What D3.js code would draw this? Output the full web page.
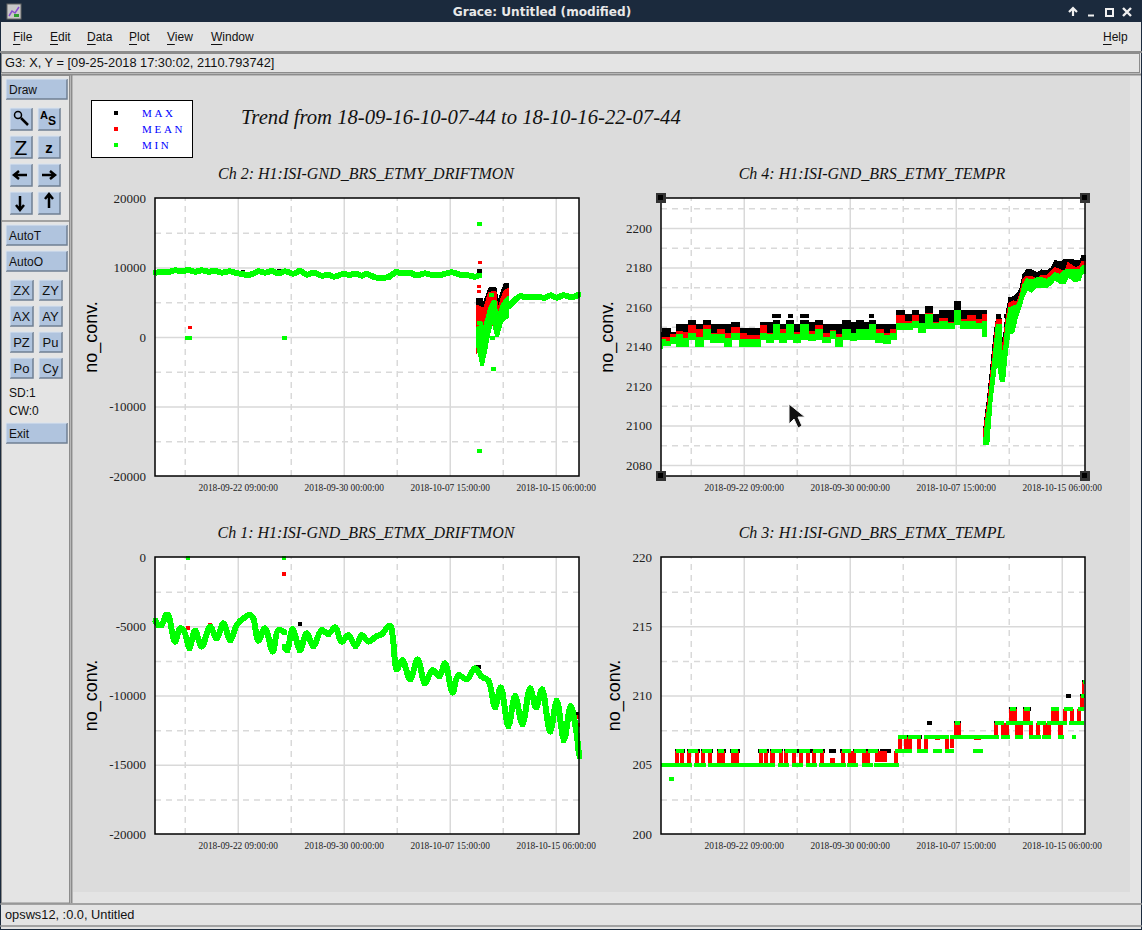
<!DOCTYPE html>
<html>
<head>
<meta charset="utf-8">
<title>Grace: Untitled (modified)</title>
<script src="https://cdn.jsdelivr.net/npm/d3@7"></script>
<style>
  html, body { margin: 0; padding: 0; background: #e4e4e4; overflow: hidden; }
  svg { display: block; }
  .ui { font-family: "Liberation Sans", Arial, sans-serif; font-size: 12px; fill: #111; }
  .serif { font-family: "Liberation Serif", "Times New Roman", serif; }
</style>
</head>
<body>
<script>
// time axis, shared by the four graphs
const startTime = Date.UTC(2018, 8, 16, 10, 7, 44);
const endTime = Date.UTC(2018, 9, 16, 22, 7, 44);
const majorTimes = [Date.UTC(2018, 8, 22, 9), Date.UTC(2018, 8, 30, 0), Date.UTC(2018, 9, 7, 15), Date.UTC(2018, 9, 15, 6)];
const minorTimes = [Date.UTC(2018, 8, 18, 13, 30), Date.UTC(2018, 8, 26, 4, 30), Date.UTC(2018, 9, 3, 19, 30), Date.UTC(2018, 9, 11, 10, 30)];

// legend
const legendNames = ["MAX", "MEAN", "MIN"];
const legendColors = ["#000000", "#ff0000", "#00ff00"];

// y ticks
const ch2Major = [-20000, -10000, 0, 10000, 20000];
const ch2Minor = [-15000, -5000, 5000, 15000];
const ch4Major = [2080, 2100, 2120, 2140, 2160, 2180, 2200];
const ch4Minor = [2090, 2110, 2130, 2150, 2170, 2190, 2210];
const ch1Major = [-20000, -15000, -10000, -5000, 0];
const ch1Minor = [-17500, -12500, -7500, -2500];
const ch3Major = [200, 205, 210, 215, 220];
const ch3Minor = [202.5, 207.5, 212.5, 217.5];

// Ch 2: days since start, min trace (null = gap)
const ch2MinDays = [0, 0.36, 0.96, 1.44, 1.92, 2.4, 2.88, 3.36, 3.84, 4.32, 4.8, 5.4, 5.88, 6.24, 6.64, 7.07, 7.43, 7.91, 8.39, 8.87, 9.35, 9.95, 10.43, 10.91, 11.39, 11.99, 12.47, 12.88, 13.43, 14.03, 14.51, 14.87, 15.23, 15.83, 16.31, 16.78, 17.39, 17.63, 18.35, 18.82, 19.42, 20.02, 20.62, 21.34, 21.94, 22.54, 23.02, 23.33, 23.4, 25.45, 25.78, 26.26, 26.62, 27.22, 27.7, 28.06, 28.47, 28.9, 29.37, 29.98, 30.45];
const ch2MinValues = [9210, 9353, 9353, 9593, 9449, 9640, 9400, 9593, 9400, 9497, 9257, 9449, 9160, 9113, 8920, 9113, 9449, 9257, 9497, 9160, 9449, 9113, 9497, 8970, 9257, 8825, 8920, 8680, 9017, 8970, 9065, 8825, 9065, 8585, 8490, 8633, 9353, 9160, 9210, 8873, 9160, 8873, 8970, 9305, 8970, 8873, 8680, 8873, null, 4400, 5084, 5852, 5756, 5708, 5708, 5660, 5996, 5660, 5996, 5708, 6044];
// Ch 2: the oscillating stretch in October, upper and lower edges
const ch2DipDays = [23.21, 23.5, 23.57, 23.74, 24.05, 24.29, 24.46, 24.58, 24.65, 24.94, 25.18, 25.37];
const ch2DipMaxHigh = [5420, 5420, 4269, 5084, 6907, 7003, 7003, 5564, 4749, 6284, 7579, 7579];
const ch2DipMeanHigh = [4365, 4125, 3022, 4269, 6284, 6380, 6380, 4365, 3310, 5420, 6619, 6763];
const ch2DipMeanLow = [-1967, -1391, -1391, 48, 1247, 1967, 1967, 1007, 1007, 2446, 2686, 3166];
const ch2DipMinHigh = [1247, 1727, 528, 1727, 3981, 5084, 5084, 3310, 2686, 4461, 5228, 5564];
const ch2DipMinLow = [-1391, -3933, -3933, -2350, 767, 2686, 1007, 192, 192, 2206, 2686, 2926];
// Ch 2: single points
const ch2MaxDotDays = [6.35, 8.94, 23.3, 23.36];
const ch2MaxDotValues = [9305, 9497, 9545, 9545];
const ch2MeanDotDays = [2.5, 23.38, 23.31, 23.31];
const ch2MeanDotValues = [1395, 10650, 7243, 6524];
const ch2MinDotDays = [2.37, 2.5, 9.28, 23.33, 24.32, 23.31, 24.27, 24.23, 23.35];
const ch2MinDotValues = [-100, -100, -100, 16260, -4605, -16405, -96, 5996, 2062];

// Ch 4: steady stretch, then the drop and recovery
const ch4DaysA = [0, 0.17, 0.53, 0.89, 1.37, 1.73, 2.21, 2.81, 3.29, 3.76, 4.36, 4.84, 5.32, 5.92, 6.4, 7, 7.36, 7.84, 8.32, 8.8, 9.28, 9.76, 10.36, 10.84, 11.32, 11.92, 12.4, 12.76, 13.36, 13.84, 14.32, 14.8, 15.16, 15.76, 16.24, 16.71, 17.19, 17.91, 18.27, 18.75, 19.35, 19.71, 20.31, 20.91, 21.34, 21.75, 22.35, 22.83, 23.38];
const ch4MaxA = [2147, 2149, 2149, 2147, 2151, 2151, 2153, 2151, 2153, 2151, 2151, 2151, 2152, 2149, 2149, 2149, 2152, 2152, 2153, 2151, 2153, 2151, 2153, 2152, 2153, 2151, 2151, 2151, 2153, 2152, 2153, 2152, 2153, 2151, 2151, 2151, 2158, 2156, 2158, 2156, 2160, 2156, 2158, 2158, 2163, 2158, 2158, 2158, 2158];
const ch4MeanA = [2144.7, 2144.7, 2144.7, 2146, 2147.6, 2147, 2150.5, 2148.4, 2150.5, 2146.8, 2148.8, 2146.8, 2149.8, 2146.8, 2145.4, 2145.4, 2150.5, 2146.8, 2151, 2148.8, 2151, 2147, 2151, 2147.6, 2150.5, 2146.8, 2148, 2146, 2148.8, 2146.8, 2148.8, 2148.8, 2151, 2148.8, 2146.8, 2148.4, 2155.5, 2152.7, 2155.5, 2151.8, 2156.5, 2152.2, 2154.3, 2152.2, 2158.2, 2153.8, 2155.5, 2153.5, 2156];
const ch4MinHighA = [2143.7, 2143.7, 2142.5, 2144.7, 2146, 2144.2, 2146.8, 2144.7, 2148.8, 2146, 2146, 2144.2, 2146.8, 2143.7, 2143.7, 2143.7, 2146.8, 2146, 2151, 2146.8, 2151, 2146, 2151, 2146, 2148.8, 2144.7, 2147.6, 2144.7, 2148.8, 2146.8, 2148.8, 2148.8, 2151, 2146.8, 2145.4, 2146.8, 2151.8, 2151.8, 2152.7, 2151.8, 2156, 2151.8, 2152.7, 2151.8, 2158.2, 2152.7, 2152.7, 2151.8, 2152.7];
const ch4MinLowA = [2139, 2140.3, 2140.3, 2141.7, 2140, 2140, 2143.7, 2140, 2143.7, 2142, 2142, 2140, 2143.7, 2140, 2140, 2140, 2143.7, 2142, 2143.7, 2142, 2143.7, 2142, 2143.7, 2143, 2143.7, 2142, 2144.2, 2140, 2143.7, 2143, 2143.7, 2143.7, 2143.7, 2142, 2141.7, 2143.4, 2148.8, 2148.8, 2149.8, 2147, 2149.3, 2149.3, 2149.3, 2149.3, 2151, 2149.3, 2149.3, 2149.3, 2145];
const ch4DaysB = [23.24, 23.38, 23.55, 23.79, 24.03, 24.15, 24.44, 24.48, 24.68, 24.82, 25.06, 25.35, 25.59, 25.83, 26.07, 26.31, 26.67, 27.03, 27.39, 27.75, 28.11, 28.35, 28.71, 29.06, 29.3, 29.78, 30.14, 30.29, 30.5];
const ch4MaxB = [2097.8, 2106.2, 2115.5, 2132.4, 2148.4, 2153.8, 2153.8, 2143.4, 2145.1, 2155.2, 2164.5, 2165, 2166.2, 2168.7, 2176.3, 2178.5, 2178.5, 2177.1, 2178.5, 2178, 2179.7, 2183.4, 2182.5, 2183.9, 2183.9, 2183.5, 2183, 2185.6, 2185.6];
const ch4MeanB = [2097, 2104.6, 2113, 2129, 2145, 2153.2, 2153.2, 2140.8, 2142.5, 2152.7, 2161.9, 2162.8, 2161.9, 2166.2, 2173.8, 2175.4, 2175.1, 2174.1, 2175.8, 2175.4, 2178, 2179.7, 2178.8, 2177.1, 2182.2, 2179.7, 2180.5, 2183, 2183];
const ch4MinHighB = [2091.9, 2102, 2109.6, 2125.7, 2141.7, 2151, 2151, 2136.6, 2138.3, 2150.1, 2159.4, 2160.3, 2160.3, 2164.5, 2171.2, 2174.1, 2173.4, 2174.6, 2174.6, 2173.8, 2175.4, 2177.1, 2176.3, 2178.5, 2178.8, 2178.5, 2178.5, 2180.5, 2180.8];
const ch4MinLowB = [2090.5, 2090.5, 2090.5, 2113, 2126.5, 2134.9, 2122.3, 2122.3, 2122.3, 2133.2, 2146.8, 2147.1, 2154.3, 2159.4, 2165, 2168.7, 2167.8, 2170.4, 2169.9, 2169.9, 2172.1, 2174.1, 2172.1, 2172.1, 2175.4, 2172.9, 2173.8, 2177.1, 2177.1];
const ch4MaxDotDays = [8.2, 8.45, 9.35, 10.2, 10.5, 15.16, 24.27, 25.23, 24.87];
const ch4MaxDotValues = [2155.2, 2155.2, 2155.2, 2155.2, 2155.2, 2155.2, 2155.2, 2164, 2155.2];

// Ch 1: min trace
const ch1MinDays = [0, 0.24, 0.48, 0.79, 0.96, 1.2, 1.44, 1.8, 2.04, 2.33, 2.47, 2.88, 3.36, 3.96, 4.44, 4.92, 5.4, 5.88, 6.35, 6.83, 7.07, 7.43, 7.91, 8.47, 8.87, 9.35, 9.36, 9.28, 9.5, 9.9, 10.43, 10.91, 11.39, 11.99, 12.47, 12.95, 13.43, 13.91, 14.44, 14.87, 15.35, 15.95, 16.31, 16.79, 16.95, 17.15, 17.39, 17.79, 18.35, 18.9, 19.42, 19.95, 20.46, 20.86, 21.41, 21.82, 22.42, 23.02, 23.5, 23.98, 24.46, 24.87, 25.42, 25.9, 26.43, 26.98, 27.41, 27.84, 28.42, 28.9, 29.42, 29.9, 30.29, 30.5];
const ch1MinValues = [-4549, -4910, -4910, -4188, -4188, -5271, -6114, -5151, -5271, -6114, -6595, -5319, -6475, -5031, -5873, -4790, -5993, -4910, -4429, -4188, -4429, -6042, -5151, -6836, -5271, -5440, null, -6475, -6715, -5199, -6715, -5512, -6427, -5271, -5560, -5079, -6114, -5632, -6427, -5632, -6114, -5705, -5584, -4982, -4982, -6234, -8112, -7438, -8834, -7389, -9123, -8160, -8593, -7678, -9796, -8521, -8834, -8039, -8641, -8930, -10856, -9411, -12203, -10037, -12059, -9484, -10856, -9556, -12613, -10374, -13214, -10759, -12492, -14370];
const ch1MaxDotDays = [10.43, 23.1, 23.3, 30.33];
const ch1MaxDotValues = [-4838, -7919, -7919, -11337];
const ch1MeanDotDays = [2.37, 3.96, 9.28, 30.33, 30.4];
const ch1MeanDotValues = [-5127, -4934, -1228, -11577, -12131];
const ch1MinDotDays = [2.37, 9.28];
const ch1MinDotValues = [-72, -72];

// Ch 3: values sit on whole counts, runs of equal value as start day, end day, level
const ch3MinStart = [0, 2.37, 3.41, 8.42, 9.42, 10.43, 11.37, 13.38, 14.46, 15.32, 1.08, 1.94, 2.95, 4.1, 5.04, 7.05, 7.91, 8.92, 9.93, 10.94, 13.02, 13.88, 14.89, 16.83, 18.42, 19.57, 20.43, 22.45, 17.05, 17.77, 18.92, 20.79, 24.46, 25.46, 26.48, 27.41, 28.56, 29.57, 21.15, 24.03, 24.82, 27.05, 27.77, 29.35, 25.11, 26.12, 28.06, 29, 30, 30.22, 30.34, 0.58];
const ch3MinEnd = [2.21, 3.24, 8.2, 9.21, 10.22, 11.22, 13.31, 14.17, 15.25, 17.12, 1.68, 2.66, 3.67, 4.53, 5.54, 7.63, 8.71, 9.76, 10.72, 11.65, 13.67, 14.75, 15.61, 18.06, 19.21, 20.22, 21.08, 23.16, 17.7, 18.7, 20.72, 24.31, 25.11, 26.04, 27.34, 28.06, 29, 29.86, 21.51, 24.68, 26.76, 27.7, 29.21, 30.43, 25.54, 26.55, 28.63, 29.64, 30.43, 30.5, 30.5, 0.94];
const ch3MinLevel = [205, 205, 205, 205, 205, 205, 205, 205, 205, 205, 206, 206, 206, 206, 206, 206, 206, 206, 206, 206, 206, 206, 206, 206, 206, 206, 206, 206, 207, 207, 207, 207, 207, 207, 207, 207, 207, 207, 208, 208, 208, 208, 208, 208, 209, 209, 209, 209, 209, 210, 211, 204];
const ch3MaxStart = [1.01, 1.87, 2.88, 4.03, 4.96, 6.98, 7.84, 8.85, 9.88, 12.06, 12.88, 13.8, 14.85, 15.76, 17.05, 18.9, 19.14, 21.1, 23.96, 25, 26.05, 29.13, 30.15, 30.3];
const ch3MaxEnd = [1.73, 2.81, 3.74, 4.68, 5.68, 7.77, 8.8, 9.88, 11.8, 12.59, 13.7, 14.8, 15.7, 16.55, 18.75, 19.3, 19.5, 21.55, 24.7, 25.6, 26.6, 29.49, 30.45, 30.5];
const ch3MaxLevel = [206, 206, 206, 206, 206, 206, 206, 206, 206, 206, 206, 206, 206, 206, 207, 207, 208, 208, 208, 209, 209, 210, 210, 211];
const ch3MeanStart = [1.01, 1.37, 1.87, 2.45, 2.88, 3.38, 4.03, 5.04, 7.05, 7.41, 7.84, 8.49, 8.85, 9.42, 9.93, 10.43, 10.86, 11.44, 12.16, 12.95, 13.45, 14.46, 15.4, 16.76, 17.05, 17.48, 18.42, 18.92, 19.71, 20.43, 20.79, 21.08, 22.53, 23.96, 24.46, 25.04, 25.46, 26.04, 26.48, 26.98, 27.48, 28.06, 28.56, 28.92, 29.42, 29.93, 30.14, 30.29];
const ch3MeanEnd = [1.29, 1.65, 2.16, 2.73, 3.17, 3.67, 4.6, 5.61, 7.34, 7.7, 8.2, 8.78, 9.14, 9.71, 10.22, 10.72, 11.15, 11.73, 12.52, 13.24, 14.03, 15.04, 16.26, 17.05, 17.34, 18.06, 18.7, 19.21, 20.07, 20.72, 21.08, 21.58, 23.02, 24.24, 25.04, 25.61, 26.04, 26.55, 26.76, 27.27, 28.06, 28.63, 28.92, 29.21, 29.71, 30.22, 30.43, 30.43];
const ch3MeanLow = [205, 205, 205, 205, 205, 205, 205, 205, 205, 205, 205, 205, 205, 205, 205, 205, 205, 205, 205, 205, 205, 205, 205.2, 205, 206, 206, 206, 206, 206.8, 206, 206.2, 207, 206.8, 207, 207, 208, 207, 208, 207, 207, 207, 208, 207, 208, 208, 208, 209, 210];
const ch3MeanHigh = [206, 206, 206, 206, 206, 206, 206, 206, 206, 206, 206, 206, 206, 206, 206, 206, 206, 206, 205.5, 206, 206, 206, 206, 206, 207, 207, 207, 207, 207, 207, 207, 208, 207, 208, 208, 209, 208, 209, 208, 208, 208, 209, 208, 209, 209, 209, 210, 211];

const W = 1142, H = 930;
const svg = d3.select("body").append("svg").attr("width", W).attr("height", H);
const dayTime = d => new Date(startTime + d * 864e5);
const tickStamp = d3.utcFormat("%Y-%m-%d %H:%M:%S");

// ---------- window chrome ----------
const navy = "#1b2a3d", panelBg = "#e4e4e4", canvasBg = "#dcdcdc", btn = "#b0c4de";

svg.append("rect").attr("width", W).attr("height", H).attr("fill", panelBg);
svg.append("rect").attr("width", W).attr("height", 22).attr("fill", navy);
svg.append("rect").attr("x", 0.5).attr("y", 0.5).attr("width", W - 1).attr("height", H - 1)
    .attr("fill", "none").attr("stroke", navy);
svg.append("text").attr("x", 542).attr("y", 16).attr("text-anchor", "middle")
    .style("font-family", "'DejaVu Sans', sans-serif").style("font-size", "12.1px").style("font-weight", "bold")
    .attr("fill", "#e8e8e8").text("Grace: Untitled (modified)");

// app icon
svg.append("rect").attr("x", 7).attr("y", 4).attr("width", 14).attr("height", 15).attr("fill", "#c8c8c8").attr("stroke", "#666");
svg.append("path").attr("d", "M9 16 L12 11 L15 13 L19 7").attr("fill", "none").attr("stroke", "#8a4fd0").attr("stroke-width", 1.5);
svg.append("rect").attr("x", 14).attr("y", 14).attr("width", 5).attr("height", 3).attr("fill", "#2f9e2f");

// title bar buttons
const wb = svg.append("g").attr("fill", "none").attr("stroke", "#f0f0f0").attr("stroke-width", 2);
wb.append("path").attr("d", "M1069 12 L1073 8 L1077 12 M1073 9 V16").attr("stroke-width", 2.2);
wb.append("path").attr("d", "M1088 15.5 H1094");
wb.append("rect").attr("x", 1106).attr("y", 9).attr("width", 7).attr("height", 7);
wb.append("path").attr("d", "M1123 8 L1131 16 M1131 8 L1123 16").attr("stroke-width", 2.4);

// menu bar
const menuNames = ["File", "Edit", "Data", "Plot", "View", "Window", "Help"];
const menuX = [13, 50, 87, 129, 167, 211, 1103];
menuNames.forEach((name, i) => {
    const t = svg.append("text").attr("class", "ui").attr("x", menuX[i]).attr("y", 41).text(name);
    const first = t.node().getSubStringLength(0, 1);
    svg.append("line").attr("x1", menuX[i]).attr("x2", menuX[i] + first).attr("y1", 44.5).attr("y2", 44.5).attr("stroke", "#111");
});

// horizontal bars
const greyLine = (x1, y1, x2, y2, w) => svg.append("line").attr("x1", x1).attr("y1", y1).attr("x2", x2).attr("y2", y2)
    .attr("stroke", "#8c8c8c").attr("stroke-width", w || 1.5);
greyLine(0, 52, W, 52, 2);
svg.append("rect").attr("x", 1.5).attr("y", 53.5).attr("width", 1138).attr("height", 19).attr("fill", "none").attr("stroke", "#8c8c8c");
svg.append("text").attr("class", "ui").attr("x", 5).attr("y", 67).style("font-size", "12.8px").text("G3: X, Y = [09-25-2018 17:30:02, 2110.793742]");
greyLine(1, 74.5, W - 1, 74.5, 2);

// plot canvas and left tool column
svg.append("rect").attr("x", 73).attr("y", 76).attr("width", 1057).attr("height", 816).attr("fill", canvasBg);
svg.append("rect").attr("x", 1.5).attr("y", 75.5).attr("width", 68).attr("height", 827.5).attr("fill", panelBg).attr("stroke", "#8c8c8c");
greyLine(71.5, 75, 71.5, 903, 2);
greyLine(0, 904, W, 904, 1.5);
svg.append("text").attr("class", "ui").attr("x", 5).attr("y", 919).style("font-size", "12.8px").text("opsws12, :0.0, Untitled");
greyLine(0, 926, W, 926, 1.5);
greyLine(2, 221, 69, 221, 1.5);

function button(x, y, w, h, label, size) {
    svg.append("rect").attr("x", x).attr("y", y).attr("width", w).attr("height", h).attr("fill", btn);
    svg.append("path").attr("d", `M${x} ${y + h} H${x + w} V${y}`).attr("fill", "none").attr("stroke", "#6f7f92").attr("stroke-width", 1.5);
    svg.append("path").attr("d", `M${x} ${y + h} V${y} H${x + w}`).attr("fill", "none").attr("stroke", "#dbe4ef").attr("stroke-width", 1);
    if (label) {
        svg.append("text").attr("class", "ui").attr("x", size ? x + w / 2 : x + 3).attr("y", y + h / 2 + 4.5)
            .attr("text-anchor", size ? "middle" : "start").style("font-size", (size || 12) + "px").text(label);
    }
}
button(6, 79, 61, 20, "Draw");
button(6, 225, 61, 20, "AutoT");
button(6, 251, 61, 20, "AutoO");
button(6, 423, 61, 20, "Exit");
const smallLabels = [["ZX", "ZY"], ["AX", "AY"], ["PZ", "Pu"], ["Po", "Cy"]];
const smallY = [280, 306, 332, 358];
smallLabels.forEach((row, i) => {
    button(10, smallY[i], 23, 20, row[0], 13);
    button(39, smallY[i], 23, 20, row[1], 13);
});
const iconY = [108, 136, 164, 192];
iconY.forEach(y => { button(10, y, 22, 22); button(38, y, 22, 22); });
// tool icons
const ink = svg.append("g").attr("fill", "none").attr("stroke", "#000");
ink.append("circle").attr("cx", 18).attr("cy", 115).attr("r", 3.5).attr("stroke-width", 1.5);
ink.append("path").attr("d", "M21 118 L28 125").attr("stroke-width", 2.5);
svg.append("text").attr("x", 40).attr("y", 119).style("font-family", "'Liberation Sans'").style("font-size", "11px").style("font-weight", "bold").text("A");
svg.append("text").attr("x", 48).attr("y", 125).style("font-family", "'Liberation Sans'").style("font-size", "12px").style("font-weight", "bold").text("S");
svg.append("text").attr("x", 21).attr("y", 155).attr("text-anchor", "middle").style("font-family", "'Liberation Sans'").style("font-size", "21px").text("Z");
svg.append("text").attr("x", 49).attr("y", 153).attr("text-anchor", "middle").style("font-family", "'Liberation Sans'").style("font-size", "15px").style("font-weight", "bold").text("z");
ink.append("path").attr("d", "M27 175 H16 M19 171 L14 175 L19 179").attr("stroke-width", 2.5);
ink.append("path").attr("d", "M42 175 H53 M50 171 L55 175 L50 179").attr("stroke-width", 2.5);
ink.append("path").attr("d", "M20 196 V208 M16 205 L20 210 L24 205").attr("stroke-width", 2.5);
ink.append("path").attr("d", "M49 208 V196 M45 199 L49 194 L53 199").attr("stroke-width", 2.5);
svg.append("text").attr("class", "ui").attr("x", 9).attr("y", 397).text("SD:1");
svg.append("text").attr("class", "ui").attr("x", 9).attr("y", 415).text("CW:0");

// ---------- legend and heading ----------
svg.append("rect").attr("x", 91.5).attr("y", 100.5).attr("width", 101).attr("height", 57).attr("fill", "#fff").attr("stroke", "#000");
legendNames.forEach((name, i) => {
    const y = 113 + i * 16;
    svg.append("rect").attr("x", 114).attr("y", y - 2).attr("width", 4).attr("height", 4).attr("fill", legendColors[i]);
    svg.append("text").attr("class", "serif").attr("x", 142).attr("y", y + 4).attr("fill", "#0000ff")
        .style("font-size", "11px").style("letter-spacing", "2.7px").text(name);
});
svg.append("text").attr("class", "serif").attr("x", 241).attr("y", 124).attr("fill", "#111")
    .style("font-size", "20.7px").style("font-style", "italic").text("Trend from 18-09-16-10-07-44 to 18-10-16-22-07-44");

// ---------- graphs ----------
function makeGraph(o) {
    const g = svg.append("g");
    const x = d3.scaleUtc().domain([startTime, endTime]).range([o.left, o.left + 424]);
    const y = d3.scaleLinear().domain(o.domain).range([o.top + o.h, o.top]);
    const xAt = d => x(dayTime(d));

    const gridX = (ticks, dash) => g.append("g").attr("transform", `translate(0,${o.top + o.h})`)
        .call(d3.axisBottom(x).tickValues(ticks.map(t => new Date(t))).tickSize(-o.h).tickFormat(""))
        .call(s => s.select(".domain").remove())
        .call(s => s.selectAll("line").attr("stroke", "#d9d9d9").attr("stroke-width", 1.5).attr("stroke-dasharray", dash));
    const gridY = (ticks, dash) => g.append("g").attr("transform", `translate(${o.left},0)`)
        .call(d3.axisLeft(y).tickValues(ticks).tickSize(-424).tickFormat(""))
        .call(s => s.select(".domain").remove())
        .call(s => s.selectAll("line").attr("stroke", "#d9d9d9").attr("stroke-width", 1.5).attr("stroke-dasharray", dash));

    g.append("rect").attr("x", o.left).attr("y", o.top).attr("width", 424).attr("height", o.h).attr("fill", "#fff");
    gridX(minorTimes, "6,5");
    gridX(majorTimes, null);
    gridY(o.minor, "6,5");
    gridY(o.major.filter(v => v > o.domain[0] && v < o.domain[1]), null);

    // tick labels
    g.append("g").attr("transform", `translate(0,${o.top + o.h})`)
        .call(d3.axisBottom(x).tickValues(majorTimes.map(t => new Date(t))).tickSize(0).tickPadding(8).tickFormat(tickStamp))
        .call(s => s.select(".domain").remove())
        .call(s => s.selectAll("text").attr("class", "serif").attr("fill", "#222").style("font-size", "9.4px"));
    g.append("g").attr("transform", `translate(${o.left},0)`)
        .call(d3.axisLeft(y).tickValues(o.major).tickSize(0).tickPadding(9).tickFormat(d => String(d)))
        .call(s => s.select(".domain").remove())
        .call(s => s.selectAll("text").attr("class", "serif").attr("fill", "#222").style("font-size", "13px"));

    g.append("text").attr("class", "serif").attr("x", o.left + 211).attr("y", o.top - 19).attr("text-anchor", "middle")
        .attr("fill", "#111").style("font-size", "16px").style("font-style", "italic").text(o.title);
    g.append("text").attr("transform", `translate(${o.labelX},${o.top + o.h / 2}) rotate(-90)`).attr("text-anchor", "middle")
        .style("font-family", "'Liberation Sans', Arial, sans-serif").style("font-size", "18px").attr("fill", "#000").text("no_conv.");

    const marks = g.append("g").attr("shape-rendering", "crispEdges");

    const dots = (days, values, color, w, h) => marks.selectAll(null).data(days).enter().append("rect")
        .attr("x", d => xAt(d) - w / 2)
        .attr("y", (d, i) => y(values[i]) - h / 2)
        .attr("width", w).attr("height", h).attr("fill", color);

    const band = (days, high, low, color, sw, curve) => marks.append("path")
        .datum(days.map((d, i) => [d, high[i], low[i]]))
        .attr("d", d3.area().curve(curve || d3.curveLinear).x(d => xAt(d[0])).y0(d => y(d[2])).y1(d => y(d[1])))
        .attr("fill", color).attr("stroke", color).attr("stroke-width", sw || 1);

    const trace = (days, values, color) => {
        marks.append("path").datum(days.map((d, i) => [d, values[i]]))
            .attr("d", d3.line().curve(d3.curveCatmullRom).defined(d => d[1] != null).x(d => xAt(d[0])).y(d => y(d[1])))
            .attr("fill", "none").attr("stroke", color).attr("stroke-width", 6).attr("stroke-linejoin", "round");
        const keep = days.filter((d, i) => values[i] != null);
        dots(keep, values.filter(v => v != null), color, 5, 5);
    };

    const runs = (start, end, level, color, h) => marks.selectAll(null).data(start).enter().append("rect")
        .attr("x", d => xAt(d))
        .attr("y", (d, i) => y(level[i]) - h / 2)
        .attr("width", (d, i) => xAt(end[i]) - xAt(d))
        .attr("height", h).attr("fill", color);

    const bars = (start, end, low, high, color) => marks.selectAll(null).data(start).enter().append("rect")
        .attr("x", d => xAt(d))
        .attr("y", (d, i) => y(high[i]))
        .attr("width", (d, i) => xAt(end[i]) - xAt(d))
        .attr("height", (d, i) => y(low[i]) - y(high[i])).attr("fill", color);

    o.draw({ dots, band, trace, runs, bars });

    g.append("rect").attr("x", o.left).attr("y", o.top).attr("width", 424).attr("height", o.h)
        .attr("fill", "none").attr("stroke", "#000").attr("stroke-width", 1.5);
}

makeGraph({
    title: "Ch 2: H1:ISI-GND_BRS_ETMY_DRIFTMON", left: 155, top: 198, h: 278, labelX: 97,
    domain: [-20000, 20000], major: ch2Major, minor: ch2Minor,
    draw: m => {
        m.band(ch2DipDays, ch2DipMaxHigh, ch2DipMeanHigh, "#000", 3);
        m.dots(ch2MaxDotDays, ch2MaxDotValues, "#000", 4, 4);
        m.band(ch2DipDays, ch2DipMeanHigh, ch2DipMeanLow, "#f00", 3);
        m.dots(ch2MeanDotDays, ch2MeanDotValues, "#f00", 4, 3);
        m.band(ch2DipDays, ch2DipMinHigh, ch2DipMinLow, "#0f0", 3);
        m.trace(ch2MinDays, ch2MinValues, "#0f0");
        m.dots(ch2MinDotDays, ch2MinDotValues, "#0f0", 5, 4);
    }
});

makeGraph({
    title: "Ch 4: H1:ISI-GND_BRS_ETMY_TEMPR", left: 661, top: 198, h: 278, labelX: 613,
    domain: [2074.4, 2215.2], major: ch4Major, minor: ch4Minor,
    draw: m => {
        m.band(ch4DaysA, ch4MaxA, ch4MinLowA, "#000", 1, d3.curveStep);
        m.band(ch4DaysB, ch4MaxB, ch4MinLowB, "#000", 2);
        m.dots(ch4MaxDotDays, ch4MaxDotValues, "#000", 5, 4);
        m.band(ch4DaysA, ch4MeanA, ch4MinLowA, "#f00", 1, d3.curveStep);
        m.band(ch4DaysB, ch4MeanB, ch4MinLowB, "#f00", 2);
        m.band(ch4DaysA, ch4MinHighA, ch4MinLowA, "#0f0", 1, d3.curveStep);
        m.band(ch4DaysB, ch4MinHighB, ch4MinLowB, "#0f0", 2);
    }
});

makeGraph({
    title: "Ch 1: H1:ISI-GND_BRS_ETMX_DRIFTMON", left: 155, top: 557, h: 277, labelX: 97,
    domain: [-20000, 0], major: ch1Major, minor: ch1Minor,
    draw: m => {
        m.dots(ch1MaxDotDays, ch1MaxDotValues, "#000", 4, 4);
        m.dots(ch1MeanDotDays, ch1MeanDotValues, "#f00", 4, 4);
        m.trace(ch1MinDays, ch1MinValues, "#0f0");
        m.dots(ch1MinDotDays, ch1MinDotValues, "#0f0", 4, 4);
    }
});

makeGraph({
    title: "Ch 3: H1:ISI-GND_BRS_ETMX_TEMPL", left: 661, top: 557, h: 277, labelX: 620,
    domain: [200, 220], major: ch3Major, minor: ch3Minor,
    draw: m => {
        m.runs(ch3MaxStart, ch3MaxEnd, ch3MaxLevel, "#000", 4);
        m.bars(ch3MeanStart, ch3MeanEnd, ch3MeanLow, ch3MeanHigh, "#f00");
        m.runs(ch3MinStart, ch3MinEnd, ch3MinLevel, "#0f0", 4);
    }
});

// selection handles on the focused graph
[[661, 198], [1085, 198], [661, 476], [1085, 476]].forEach(p => {
    svg.append("rect").attr("x", p[0] - 5).attr("y", p[1] - 5).attr("width", 10).attr("height", 10).attr("fill", "#333");
    svg.append("rect").attr("x", p[0] - 3).attr("y", p[1] - 3).attr("width", 5).attr("height", 5).attr("fill", "#000");
});

// mouse pointer left in the screenshot
svg.append("path").attr("d", "M789 404 V424 L794 419 L798 428 L802 426 L798 417 L805 417 Z")
    .attr("fill", "#111").attr("stroke", "#f4f4f4").attr("stroke-width", 1);
</script>
</body>
</html>
